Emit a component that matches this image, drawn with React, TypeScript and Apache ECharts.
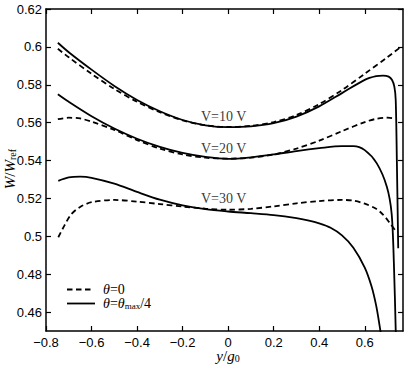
import React, { useEffect, useRef } from "react";
import * as echarts from "echarts";

const xTicks = [-0.8, -0.6, -0.4, -0.2, 0, 0.2, 0.4, 0.6];
const yTicks = [0.46, 0.48, 0.5, 0.52, 0.54, 0.56, 0.58, 0.6, 0.62];

// V = 10 V
const v10DashX = [-0.748, -0.7, -0.6, -0.5, -0.4, -0.3, -0.2, -0.1, 0, 0.1, 0.2, 0.3, 0.4, 0.5, 0.6, 0.7, 0.762];
const v10DashY = [0.599, 0.5945, 0.5858, 0.5778, 0.571, 0.5655, 0.5612, 0.5586, 0.5577, 0.5583, 0.5603, 0.564, 0.5698, 0.5772, 0.5858, 0.5946, 0.6003];
const v10SolidX = [-0.748, -0.7, -0.6, -0.5, -0.4, -0.3, -0.2, -0.1, 0, 0.1, 0.2, 0.3, 0.4, 0.5, 0.6, 0.65, 0.68, 0.705, 0.72, 0.73, 0.736, 0.741, 0.747];
const v10SolidY = [0.6022, 0.5972, 0.588, 0.5794, 0.572, 0.566, 0.5614, 0.5586, 0.5576, 0.558, 0.5597, 0.5632, 0.5686, 0.5756, 0.5826, 0.5845, 0.5848, 0.5843, 0.5825, 0.579, 0.572, 0.54, 0.4937];

// V = 20 V
const v20DashX = [-0.748, -0.7, -0.65, -0.6, -0.5, -0.4, -0.3, -0.2, -0.1, 0, 0.1, 0.2, 0.3, 0.4, 0.5, 0.6, 0.65, 0.7, 0.733];
const v20DashY = [0.5618, 0.5626, 0.5622, 0.5605, 0.5562, 0.5508, 0.5463, 0.5432, 0.5415, 0.541, 0.5415, 0.5432, 0.5463, 0.5505, 0.5555, 0.5603, 0.562, 0.5626, 0.5622];
const v20SolidX = [-0.748, -0.7, -0.6, -0.5, -0.4, -0.3, -0.2, -0.1, 0, 0.1, 0.2, 0.3, 0.4, 0.5, 0.55, 0.6, 0.653, 0.697, 0.718, 0.728, 0.736, 0.74];
const v20SolidY = [0.575, 0.571, 0.5634, 0.5569, 0.5515, 0.5472, 0.544, 0.5419, 0.5409, 0.5417, 0.5432, 0.545, 0.5465, 0.5476, 0.5476, 0.5455, 0.5385, 0.5262, 0.5121, 0.4857, 0.4505, 0.43];

// V = 30 V
const v30DashX = [-0.746, -0.72, -0.69, -0.65, -0.6, -0.5, -0.4, -0.3, -0.2, -0.1, 0, 0.1, 0.2, 0.3, 0.4, 0.5, 0.55, 0.6, 0.65, 0.68, 0.71, 0.733];
const v30DashY = [0.4995, 0.5055, 0.5115, 0.5155, 0.518, 0.5192, 0.5183, 0.517, 0.5157, 0.5146, 0.514, 0.5145, 0.5158, 0.5174, 0.5186, 0.5192, 0.5188, 0.5172, 0.5145, 0.5115, 0.507, 0.5033];
const v30SolidX = [-0.746, -0.7, -0.65, -0.6, -0.5, -0.4, -0.3, -0.2, -0.1, 0, 0.1, 0.2, 0.3, 0.35, 0.4, 0.45, 0.5, 0.55, 0.6, 0.63, 0.65, 0.665, 0.675];
const v30SolidY = [0.5293, 0.5311, 0.5315, 0.5309, 0.5278, 0.5234, 0.5193, 0.5163, 0.5143, 0.5131, 0.5122, 0.5112, 0.5096, 0.5084, 0.5068, 0.5045, 0.5005, 0.494, 0.4835, 0.4735, 0.4635, 0.453, 0.445];

const voltLabels = ["V=10 V", "V=20 V", "V=30 V"];
const voltLabelX = [-0.02, -0.02, -0.02];
const voltLabelY = [0.5635, 0.5466, 0.5197];

const pair = (xs: number[], ys: number[]) => xs.map((x, i) => [x, ys[i]]);

const serif = "'Liberation Serif', 'DejaVu Serif', serif";
const sans = "'Liberation Sans', Arial, sans-serif";

export default function App() {
  const ref = useRef<HTMLDivElement>(null);
  useEffect(() => {
    if (!ref.current) return;
    const chart = echarts.init(ref.current, undefined, { renderer: "svg" });
    const mkLine = (xs: number[], ys: number[], dashed: boolean) => ({
      type: "line",
      data: pair(xs, ys),
      showSymbol: false,
      symbol: "none",
      smooth: 0.3,
      clip: true,
      lineStyle: { color: "#000", width: 1.8, type: dashed ? [5.5, 3.5] : "solid" },
      itemStyle: { color: "#000" },
      z: 3,
    });
    const fmtX = (v: number) => {
      const r = Math.round(v * 10) / 10;
      if (r === 0) return "0";
      return (r < 0 ? "−" : "") + Math.abs(r).toString();
    };
    const fmtY = (v: number) => String(Math.round(v * 100) / 100);
    const axisLine = { show: true, onZero: false, lineStyle: { color: "#000", width: 1.5 } };
    const tickStyle = { color: "#000", width: 1.2 };
    const richAxis = {
      i: { fontFamily: serif, fontStyle: "italic", fontSize: 15, color: "#000" },
      n: { fontFamily: serif, fontSize: 15, color: "#000" },
      s: { fontFamily: serif, fontSize: 10, color: "#000", padding: [5, 0, 0, 0] },
    };
    const richLegend = {
      i: { fontFamily: serif, fontStyle: "italic", fontSize: 14, color: "#333" },
      n: { fontFamily: serif, fontSize: 14, color: "#333" },
      s: { fontFamily: serif, fontSize: 9, color: "#333", padding: [5, 0, 0, 0] },
    };
    const option: any = {
      animation: false,
      backgroundColor: "#fff",
      grid: { left: 46, right: 2, top: 9, bottom: 35, containLabel: false, outerBoundsMode: "none" },
      xAxis: [
        {
          type: "value",
          min: -0.8,
          max: 0.768,
          position: "bottom",
          axisLine,
          axisTick: { show: true, inside: true, length: 5, customValues: xTicks, lineStyle: tickStyle },
          axisLabel: { customValues: xTicks, formatter: fmtX, color: "#000", fontFamily: sans, fontSize: 13, margin: 5 },
          splitLine: { show: false },
        },
        {
          type: "value",
          min: -0.8,
          max: 0.768,
          position: "top",
          axisLine,
          axisTick: { show: true, inside: true, length: 5, customValues: xTicks, lineStyle: tickStyle },
          axisLabel: { show: false },
          splitLine: { show: false },
        },
      ],
      yAxis: [
        {
          type: "value",
          min: 0.45,
          max: 0.62,
          position: "left",
          axisLine,
          axisTick: { show: true, inside: true, length: 5, customValues: yTicks, lineStyle: tickStyle },
          axisLabel: { customValues: yTicks, formatter: fmtY, color: "#000", fontFamily: sans, fontSize: 13, margin: 4 },
          splitLine: { show: false },
        },
        {
          type: "value",
          min: 0.45,
          max: 0.62,
          position: "right",
          axisLine,
          axisTick: { show: true, inside: true, length: 5, customValues: yTicks, lineStyle: tickStyle },
          axisLabel: { show: false },
          splitLine: { show: false },
        },
      ],
      graphic: [
        {
          type: "text",
          x: 228,
          y: 356,
          style: { text: "{i|y}{n|/}{i|g}{s|0}", rich: richAxis, align: "center", verticalAlign: "middle" },
        },
        {
          type: "text",
          x: 10,
          y: 169,
          rotation: Math.PI / 2,
          style: { text: "{i|W}{n|/}{i|W}{s|ref}", rich: richAxis, align: "center", verticalAlign: "middle" },
        },
        {
          type: "line",
          shape: { x1: 67, y1: 289.5, x2: 93, y2: 289.5 },
          style: { stroke: "#000", lineWidth: 1.8, lineDash: [5.5, 3.5] },
        },
        {
          type: "line",
          shape: { x1: 67, y1: 303.5, x2: 95, y2: 303.5 },
          style: { stroke: "#000", lineWidth: 1.8 },
        },
        {
          type: "text",
          x: 103,
          y: 289.5,
          style: { text: "{i|θ}{n|=0}", rich: richLegend, verticalAlign: "middle", align: "left" },
        },
        {
          type: "text",
          x: 103,
          y: 303.5,
          style: { text: "{i|θ}{n|=}{i|θ}{s|max}{n|/4}", rich: richLegend, verticalAlign: "middle", align: "left" },
        },
      ],
      series: [
        mkLine(v10DashX, v10DashY, true),
        mkLine(v10SolidX, v10SolidY, false),
        mkLine(v20DashX, v20DashY, true),
        mkLine(v20SolidX, v20SolidY, false),
        mkLine(v30DashX, v30DashY, true),
        mkLine(v30SolidX, v30SolidY, false),
        {
          type: "scatter",
          symbolSize: 0,
          data: voltLabels.map((t, i) => ({ value: [voltLabelX[i], voltLabelY[i]], name: t })),
          label: {
            show: true,
            position: "inside",
            formatter: (p: any) => p.name,
            fontFamily: serif,
            fontSize: 14,
            color: "#000",
          },
          silent: true,
          z: 5,
        },
      ],
    };
    chart.setOption(option);
    return () => chart.dispose();
  }, []);
  return (
    <div
      ref={ref}
      style={{ position: "fixed", left: 0, top: 0, width: 405, height: 366, background: "#fff" }}
    />
  );
}
